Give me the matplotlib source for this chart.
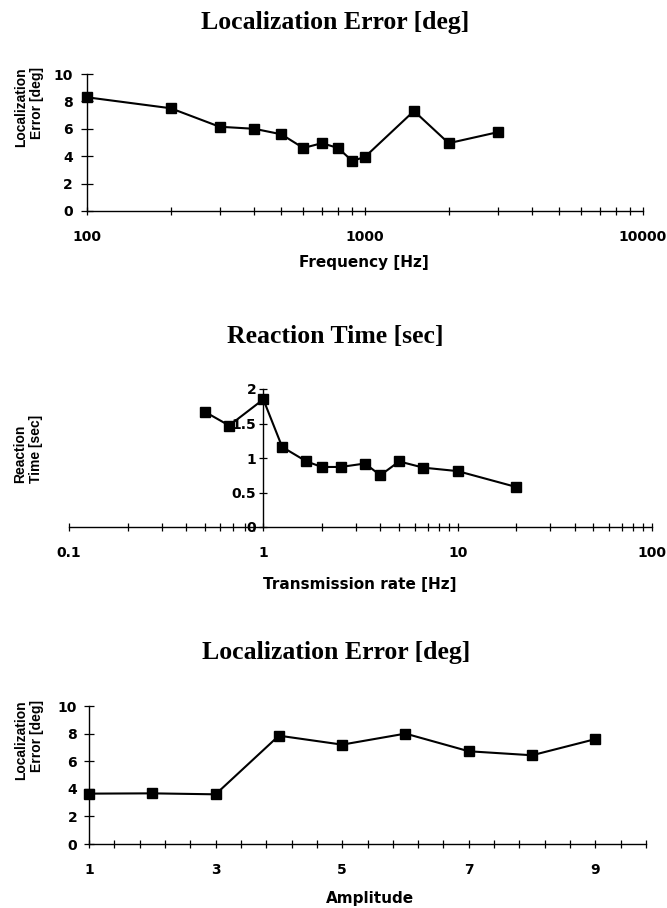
import matplotlib
matplotlib.use('Agg')
import matplotlib.pyplot as plt
from matplotlib.ticker import LogLocator, FuncFormatter, NullFormatter, FixedLocator

# 数据：频率 vs 定位误差
freq_hz = [100, 200, 300, 400, 500, 600, 700, 800, 900, 1000, 1500, 2000, 3000]
freq_err = [8.3, 7.5, 6.15, 6.0, 5.6, 4.6, 4.95, 4.6, 3.65, 3.95, 7.3, 4.95, 5.75]

# 数据：传输速率 vs 反应时间
rate_hz = [0.5, 0.667, 1, 1.25, 1.667, 2, 2.5, 3.333, 4, 5, 6.667, 10, 20]
rate_rt = [1.67, 1.47, 1.85, 1.16, 0.95, 0.87, 0.87, 0.92, 0.75, 0.95, 0.86, 0.81, 0.58]

# 数据：振幅 vs 定位误差
amp = [1, 2, 3, 4, 5, 6, 7, 8, 9]
amp_err = [3.65, 3.67, 3.6, 7.85, 7.2, 8.0, 6.72, 6.43, 7.6]

W, H = 667, 908
TICK_FONT = 'DejaVu Sans'
XLAB_FONT = 'DejaVu Sans'
YLAB_FONT = 'Liberation Sans'
SERIF = 'Liberation Serif'
TICK_FS = 10
XLAB_FS = 11
YLAB_FS = 10
TITLE_FS = 18.5


def px_axes(fig, left, right, top, bottom):
    """像素坐标 -> 图形坐标"""
    return fig.add_axes([left / W, 1 - bottom / H, (right - left) / W, (bottom - top) / H])


def fig_text(fig, x, y, s, ha='center', va='center', **kw):
    fig.text(x / W, 1 - y / H, s, ha=ha, va=va, **kw)


def style_axes(ax, ylen=6, ypad=4.5):
    for side in ['top', 'right']:
        ax.spines[side].set_visible(False)
    for side in ['left', 'bottom']:
        ax.spines[side].set_linewidth(1.0)
    ax.tick_params(axis='x', which='both', direction='inout', length=6, width=0.9, pad=10.5)
    ax.tick_params(axis='y', which='both', direction='inout', length=ylen, width=0.9, pad=ypad)
    for lab in ax.get_xticklabels() + ax.get_yticklabels():
        lab.set_fontfamily(TICK_FONT)
        lab.set_fontweight('bold')
        lab.set_fontsize(TICK_FS)


def plain(v, _):
    return f'{v:g}'


fig = plt.figure(figsize=(W / 100, H / 100), dpi=100)
fig.patch.set_facecolor('white')

line_kw = dict(color='black', lw=1.5, marker='s', markersize=6.5, clip_on=False, zorder=5)
ylab_kw = dict(family=YLAB_FONT, fontweight='bold', fontsize=YLAB_FS, rotation=90, linespacing=1.1)
xlab_kw = dict(family=XLAB_FONT, fontweight='bold', fontsize=XLAB_FS)
title_kw = dict(family=SERIF, fontweight='bold', fontsize=TITLE_FS)

# ---- 图1：频率 ----
ax1 = px_axes(fig, 87, 643, 74, 211)
ax1.plot(freq_hz, freq_err, **line_kw)
ax1.set_xscale('log')
ax1.set_xlim(100, 10000)
ax1.set_ylim(0, 10)
ax1.set_yticks([0, 2, 4, 6, 8, 10])
ax1.xaxis.set_major_locator(LogLocator(base=10))
ax1.xaxis.set_minor_locator(LogLocator(base=10, subs=range(2, 10)))
ax1.xaxis.set_major_formatter(FuncFormatter(plain))
ax1.xaxis.set_minor_formatter(NullFormatter())
style_axes(ax1, ylen=8, ypad=6)

fig_text(fig, 335, 22, 'Localization Error [deg]', **title_kw)
fig_text(fig, 29, 67, 'Localization\nError [deg]', va='top', multialignment='right', **ylab_kw)
fig_text(fig, 364, 263, 'Frequency [Hz]', **xlab_kw)

# ---- 图2：传输速率 ----
ax2 = px_axes(fig, 69, 652, 389, 527)
ax2.plot(rate_hz, rate_rt, **line_kw)
ax2.set_xscale('log')
ax2.set_xlim(0.1, 100)
ax2.set_ylim(0, 2)
ax2.set_yticks([0, 0.5, 1, 1.5, 2])
ax2.yaxis.set_major_formatter(FuncFormatter(plain))
ax2.spines['left'].set_position(('data', 1))
ax2.xaxis.set_major_locator(LogLocator(base=10))
ax2.xaxis.set_minor_locator(LogLocator(base=10, subs=range(2, 10)))
ax2.xaxis.set_major_formatter(FuncFormatter(plain))
ax2.xaxis.set_minor_formatter(NullFormatter())
style_axes(ax2, ylen=6, ypad=2)

fig_text(fig, 335, 337, 'Reaction Time [sec]', **title_kw)
fig_text(fig, 28, 483, 'Reaction\nTime [sec]', va='bottom', multialignment='left', **ylab_kw)
fig_text(fig, 360, 585, 'Transmission rate [Hz]', **xlab_kw)

# ---- 图3：振幅 ----
ax3 = px_axes(fig, 89, 646, 706, 844)
ax3.plot(amp, amp_err, **line_kw)
ax3.set_xlim(1, 9.8)
ax3.set_ylim(0, 10)
ax3.set_yticks([0, 2, 4, 6, 8, 10])
ax3.set_xticks([1, 3, 5, 7, 9])
ax3.xaxis.set_minor_locator(FixedLocator([1 + 0.4 * i for i in range(23)]))
style_axes(ax3, ylen=7, ypad=5)

fig_text(fig, 336, 653, 'Localization Error [deg]', **title_kw)
fig_text(fig, 29, 700, 'Localization\nError [deg]', va='top', multialignment='right', **ylab_kw)
fig_text(fig, 370, 898, 'Amplitude', **xlab_kw)

fig.savefig('out.png', dpi=100)
